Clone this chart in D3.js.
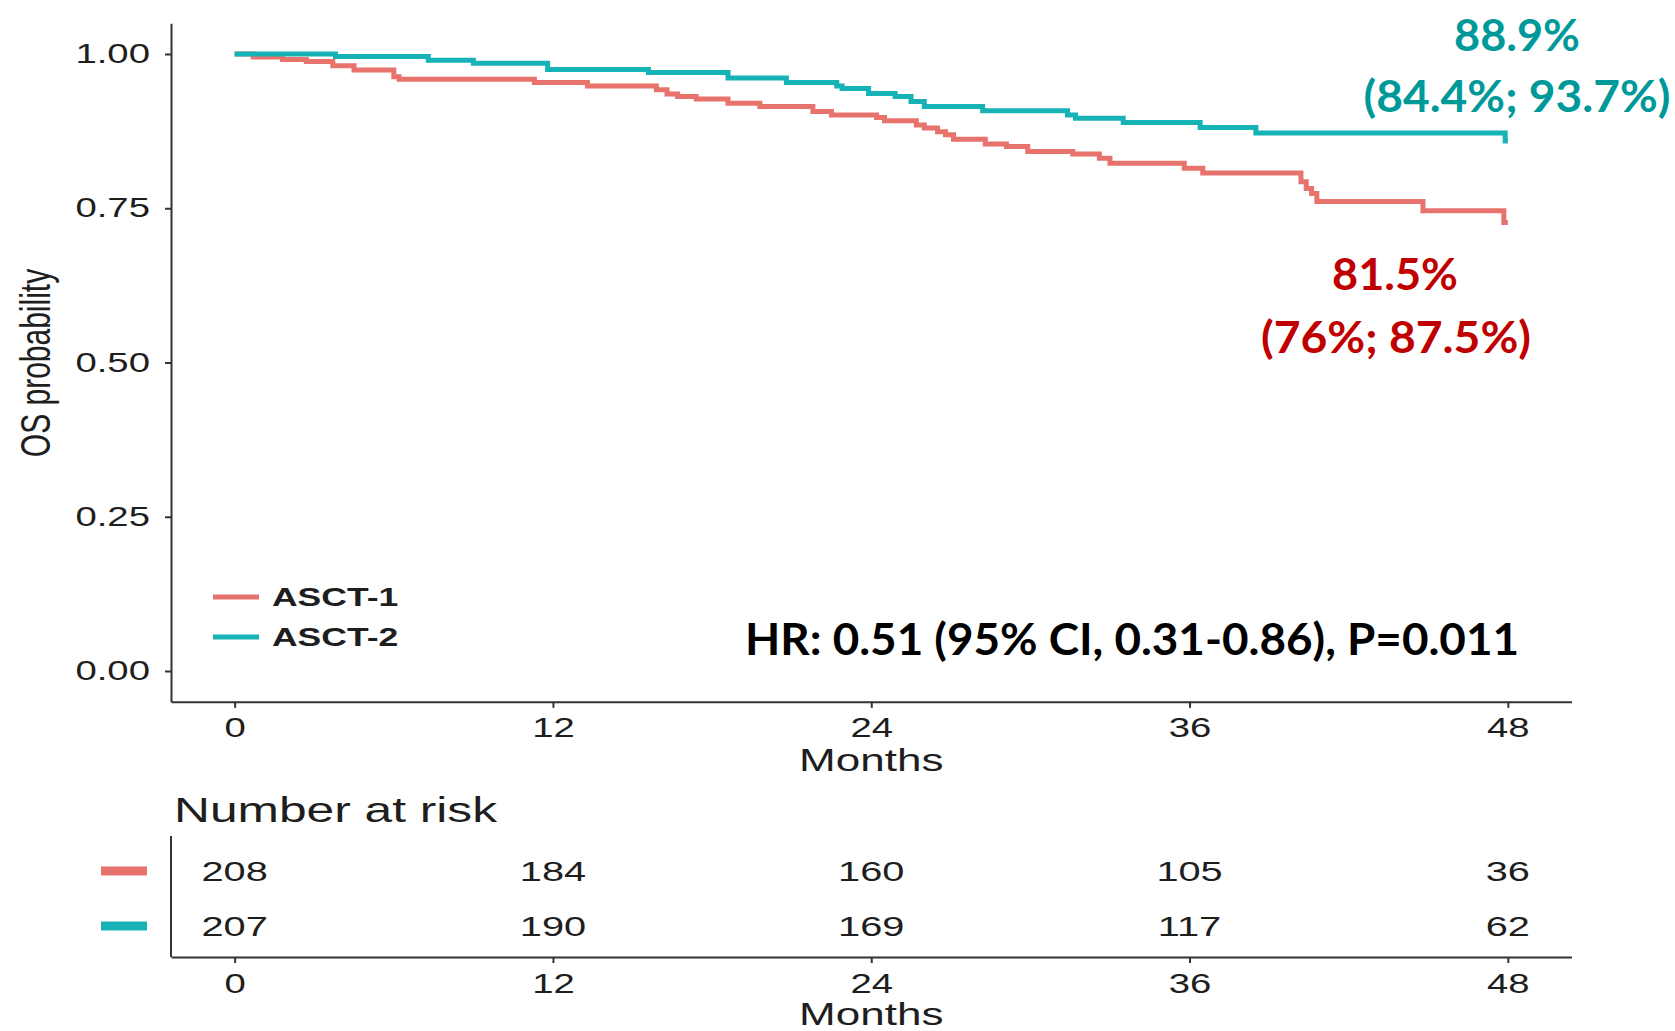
<!DOCTYPE html>
<html>
<head>
<meta charset="utf-8">
<script src="https://cdn.jsdelivr.net/npm/d3@7"></script>
<style>
  html, body { margin: 0; padding: 0; background: #ffffff; }
  svg { display: block; }
</style>
</head>
<body>
<svg id="chart" width="1675" height="1031"></svg>
<script>
// Kaplan–Meier overall survival, ASCT-1 vs ASCT-2
const groups = ["ASCT-1", "ASCT-2"];
const groupColors = ["#E8736C", "#17B2B5"];

const timesASCT1 = [0, 0.7, 1.8, 2.7, 3.7, 4.5, 6.0, 6.2, 11.3, 13.3, 15.9, 16.3, 16.7, 17.4, 18.6, 19.8, 21.8, 22.5,
  24.2, 24.5, 25.7, 26.0, 26.5, 26.8, 27.1, 28.3, 29.1, 29.9, 31.6, 32.6, 33.0, 35.8, 36.5, 40.2, 40.4, 40.6, 40.8,
  44.8, 47.85, 48];
const survASCT1 = [1, 0.995, 0.991, 0.988, 0.981, 0.974, 0.963, 0.959, 0.954, 0.948, 0.942, 0.935, 0.931, 0.927,
  0.920, 0.915, 0.907, 0.901, 0.897, 0.892, 0.885, 0.880, 0.874, 0.869, 0.862, 0.854, 0.850, 0.842, 0.838, 0.831,
  0.823, 0.815, 0.807, 0.793, 0.782, 0.774, 0.761, 0.746, 0.727, 0.727];

const timesASCT2 = [0, 3.8, 7.3, 9.0, 11.8, 15.6, 18.6, 20.8, 22.7, 22.9, 23.9, 24.9, 25.5, 26.0, 28.2, 31.4, 31.7,
  33.5, 36.4, 38.5, 47.9, 48];
const survASCT2 = [1, 0.996, 0.990, 0.985, 0.975, 0.970, 0.961, 0.954, 0.948, 0.944, 0.936, 0.931, 0.923, 0.915,
  0.908, 0.901, 0.896, 0.889, 0.881, 0.872, 0.859, 0.859];

const monthTicks = [0, 12, 24, 36, 48];
const probTicks = [0, 0.25, 0.5, 0.75, 1];
const atRiskASCT1 = [208, 184, 160, 105, 36];
const atRiskASCT2 = [207, 190, 169, 117, 62];

const annotASCT2 = ["88.9%", "(84.4%; 93.7%)"];
const annotASCT1 = ["81.5%", "(76%; 87.5%)"];
const hrText = "HR: 0.51 (95% CI, 0.31-0.86), P=0.011";

// ---------------------------------------------------------------
const svg = d3.select("#chart");
const SX = 1.42;                       // horizontal stretch of the plot lettering
const sansFont = "'Liberation Sans', Arial, sans-serif";
const boldFont = "Lato, 'Open Sans', sans-serif";
const inkColor = "#1e1e1e";

const x = d3.scaleLinear().domain([-2.4, 50.4]).range([171, 1571.5]);
const y = d3.scaleLinear().domain([0, 1]).range([671, 54]);

function styleAxis(g) {
  g.selectAll("path.domain").attr("stroke", "#333").attr("stroke-width", 2);
  g.selectAll(".tick line").attr("stroke", "#333").attr("stroke-width", 2);
  g.selectAll("text").attr("fill", inkColor).attr("font-family", sansFont).attr("font-size", 27);
}

// --- survival panel axes
const yAxisG = svg.append("g").attr("transform", `translate(${x(-2.4)},0)`);
const yAxis = d3.axisLeft(d3.scaleLinear().domain([-0.05, 1.05]).range([y(-0.05), y(1.05)]))
  .tickValues(probTicks).tickFormat(d3.format(".2f")).tickSize(6).tickSizeOuter(0);
yAxisG.call(yAxis).call(styleAxis);
yAxisG.selectAll(".tick text").attr("x", -21 / SX).attr("transform", `scale(${SX},1)`);

const xAxisG = svg.append("g").attr("transform", `translate(0,${y(-0.05)})`);
xAxisG.call(d3.axisBottom(x).tickValues(monthTicks).tickSize(6).tickSizeOuter(0).tickPadding(10)).call(styleAxis);
xAxisG.selectAll(".tick text").attr("transform", `scale(${SX},1)`);

// axis titles
function stretchedText(parent, tx, ty, str, size, weight, anchor) {
  return parent.append("text")
    .attr("transform", `translate(${tx},${ty}) scale(${SX},1)`)
    .attr("text-anchor", anchor || "start")
    .attr("font-family", sansFont).attr("font-size", size)
    .attr("font-weight", weight || "normal")
    .attr("fill", inkColor).text(str);
}
stretchedText(svg, x(24), 771, "Months", 31, "normal", "middle");

svg.append("text")
  .attr("transform", `translate(50,363) scale(${SX},1) rotate(-90)`)
  .attr("text-anchor", "middle")
  .attr("font-family", sansFont).attr("font-size", 30)
  .attr("fill", inkColor).text("OS probability");

// --- survival step curves
const curves = [
  { name: groups[0], t: timesASCT1, s: survASCT1, color: groupColors[0] },
  { name: groups[1], t: timesASCT2, s: survASCT2, color: groupColors[1] }
];
const stepLine = d3.line().x(d => x(d[0])).y(d => y(d[1])).curve(d3.curveStepAfter);
svg.append("g").selectAll("path").data(curves).join("path")
  .attr("d", c => stepLine(c.t.map((t, i) => [t, c.s[i]])))
  .attr("fill", "none")
  .attr("stroke", c => c.color)
  .attr("stroke-width", 5)
  .attr("stroke-linejoin", "miter");

// --- legend inside the panel
const legendY = d3.scalePoint().domain(groups).range([597, 637]);
const legend = svg.append("g");
groups.forEach((g, i) => {
  legend.append("line")
    .attr("x1", 213).attr("x2", 259)
    .attr("y1", legendY(g)).attr("y2", legendY(g))
    .attr("stroke", groupColors[i]).attr("stroke-width", 5);
  stretchedText(legend, 272, legendY(g) + 9, g, 25, "bold");
});

// --- survival estimates and hazard ratio
function boldLabel(cx, baseline, str, color, width) {
  svg.append("text")
    .attr("x", cx).attr("y", baseline)
    .attr("text-anchor", "middle")
    .attr("font-family", boldFont).attr("font-weight", 700).attr("font-size", 44)
    .attr("fill", color)
    .attr("textLength", width).attr("lengthAdjust", "spacingAndGlyphs")
    .text(str);
}
boldLabel(1517, 51, annotASCT2[0], "#009999", 126);
boldLabel(1517, 112, annotASCT2[1], "#009999", 307);
boldLabel(1395, 290, annotASCT1[0], "#C00000", 126);
boldLabel(1396, 353, annotASCT1[1], "#C00000", 270);
boldLabel(1132, 655, hrText, "#000000", 774);

// --- number-at-risk table
stretchedText(svg, 174, 822, "Number at risk", 35);

const rowY = d3.scalePoint().domain(groups).range([871, 926]);
const riskG = svg.append("g");
riskG.append("line")
  .attr("x1", x(-2.4)).attr("x2", x(-2.4)).attr("y1", 836).attr("y2", 957)
  .attr("stroke", "#333").attr("stroke-width", 2);

const riskX = svg.append("g").attr("transform", "translate(0,957)");
riskX.call(d3.axisBottom(x).tickValues(monthTicks).tickSize(6).tickSizeOuter(0).tickPadding(11)).call(styleAxis);
riskX.selectAll(".tick text").attr("transform", `scale(${SX},1)`);
stretchedText(svg, x(24), 1025, "Months", 31, "normal", "middle");

const riskRows = [atRiskASCT1, atRiskASCT2];
groups.forEach((g, i) => {
  riskG.append("rect")
    .attr("x", 101).attr("width", 46)
    .attr("y", rowY(g) - 4.5).attr("height", 9)
    .attr("fill", groupColors[i]);
  riskRows[i].forEach((n, j) => {
    riskG.append("text")
      .attr("transform", `translate(${x(monthTicks[j])},${rowY(g)}) scale(${SX},1)`)
      .attr("dy", "0.36em")
      .attr("text-anchor", "middle")
      .attr("font-family", sansFont).attr("font-size", 28)
      .attr("fill", inkColor).text(n);
  });
});
</script>
</body>
</html>
